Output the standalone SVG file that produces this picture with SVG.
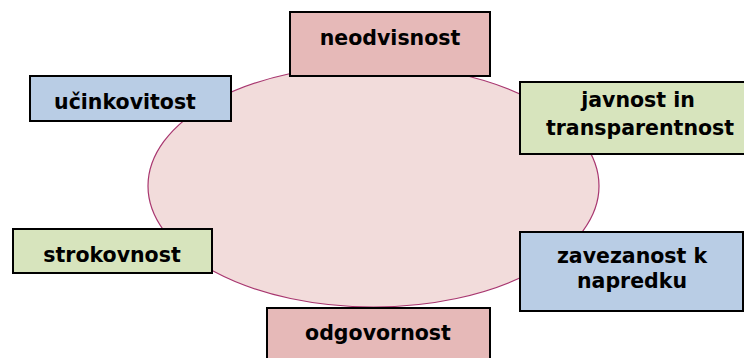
<svg xmlns="http://www.w3.org/2000/svg" width="744" height="358" viewBox="0 0 744 358">
<style>
.box{stroke:#000;stroke-width:2}
.pink{fill:#E6B9B8}
.blue{fill:#B9CDE5}
.green{fill:#D7E4BD}
text{font-family:"DejaVu Sans",Verdana,sans-serif;font-weight:bold;font-size:20.5px;fill:#000;text-anchor:middle}
</style>
<rect width="744" height="358" fill="#fff"/>
<g id="center">
<ellipse cx="373.5" cy="186" rx="225.5" ry="121" fill="#F2DCDB" stroke="#A8366F" stroke-width="1.2"/>
</g>
<g id="connectors"></g>
<g id="neodvisnost">
<rect class="box pink" x="290" y="12" width="200" height="64"/>
<text x="390" y="45">neodvisnost</text>
</g>
<g id="ucinkovitost">
<rect class="box blue" x="30" y="76" width="201" height="45"/>
<text x="125" y="109">učinkovitost</text>
</g>
<g id="javnost">
<rect class="box green" x="520" y="82" width="232" height="72"/>
<text x="638" y="107">javnost in</text>
<text x="640" y="135">transparentnost</text>
</g>
<g id="strokovnost">
<rect class="box green" x="13" y="229" width="199" height="44"/>
<text x="112" y="262">strokovnost</text>
</g>
<g id="zavezanost">
<rect class="box blue" x="520" y="232" width="223" height="79"/>
<text x="632" y="263">zavezanost k</text>
<text x="632" y="288">napredku</text>
</g>
<g id="odgovornost">
<rect class="box pink" x="267" y="308" width="223" height="60"/>
<text x="378" y="340">odgovornost</text>
</g>
</svg>
